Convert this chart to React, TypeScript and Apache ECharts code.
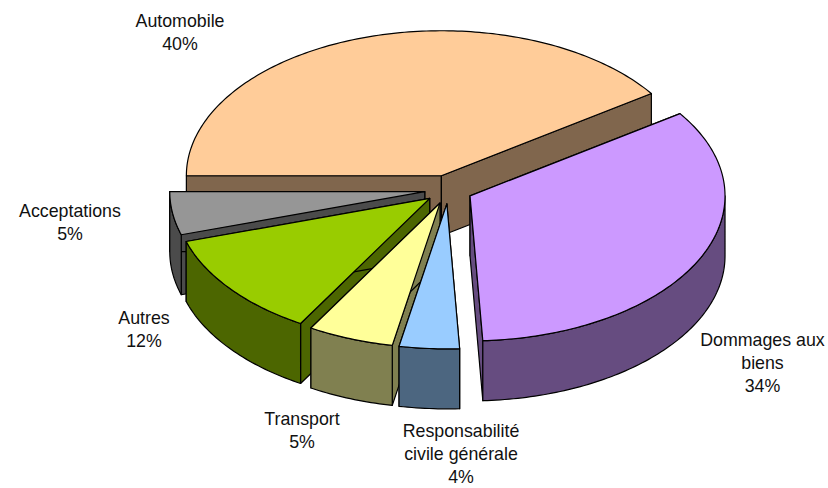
import React, { useEffect, useRef } from "react";
import * as echarts from "echarts";

const categories = ["Automobile", "Dommages aux\nbiens", "Responsabilité\ncivile générale", "Transport", "Autres", "Acceptations"];
const shares = [40.4, 33.8, 3.8, 5.45, 11.75, 4.8];
const percentLabels = ["40%", "34%", "4%", "5%", "12%", "5%"];
const topColors = ["#FFCC99", "#CC99FF", "#99CCFF", "#FFFF99", "#99CC00", "#969696"];
const wallColors = ["#80664D", "#664C80", "#4C6680", "#808050", "#4C6600", "#4B4B4B"];
const paintOrder = [0, 5, 4, 3, 2, 1];
const labelCentres = [[180, 32], [762.5, 363], [461, 454], [302, 430], [144, 329], [70, 222]];

const CX = 448.5, CY = 189.5, RX = 255, RY = 145, DEPTH = 60, EX = 24, EY = 14.4;
const START_DEG = 180;

const total = shares.reduce((a, b) => a + b, 0);

function sliceGeom(idx: number) {
  let before = 0;
  for (let i = 0; i < idx; i++) before += shares[i];
  const a0 = START_DEG - (before / total) * 360;
  const a1 = a0 - (shares[idx] / total) * 360;
  const mid = ((a0 + a1) / 2) * Math.PI / 180;
  const ox = CX + EX * Math.cos(mid);
  const oy = CY - EY * Math.sin(mid);
  const pt = (deg: number, dy = 0): [number, number] => [
    ox + RX * Math.cos(deg * Math.PI / 180),
    oy - RY * Math.sin(deg * Math.PI / 180) + dy,
  ];
  return { a0, a1, ox, oy, pt };
}

function arc(from: number, to: number, pt: (d: number, dy?: number) => [number, number], dy = 0) {
  const n = Math.max(1, Math.ceil(Math.abs(to - from)));
  const out: [number, number][] = [];
  for (let i = 0; i <= n; i++) out.push(pt(from + ((to - from) * i) / n, dy));
  return out;
}

function renderSlice(params: any, api: any) {
  const idx = api.value(0);
  const { a0, a1, ox, oy, pt } = sliceGeom(idx);
  const stroke = { stroke: "#000", lineWidth: 1.2, lineJoin: "round" };
  const wall = { ...stroke, fill: wallColors[idx] };
  const radial = (deg: number) => ({
    type: "polygon",
    shape: { points: [[ox, oy], pt(deg), pt(deg, DEPTH), [ox, oy + DEPTH]] },
    style: wall,
  });
  const children: any[] = [radial(a0), radial(a1)];
  const lo = Math.max(a1, -180);
  const hi = Math.min(a0, 0);
  if (hi > lo) {
    children.push({
      type: "polygon",
      shape: { points: [...arc(hi, lo, pt), ...arc(lo, hi, pt, DEPTH)] },
      style: wall,
    });
  }
  children.push({
    type: "polygon",
    shape: { points: [[ox, oy], ...arc(a0, a1, pt)] },
    style: { ...stroke, fill: topColors[idx] },
  });
  return { type: "group", children };
}

export default function App() {
  const ref = useRef<HTMLDivElement>(null);
  useEffect(() => {
    const chart = echarts.init(ref.current!, undefined, { renderer: "svg" });
    chart.setOption({
      animation: false,
      backgroundColor: "#fff",
      series: [
        {
          type: "custom",
          coordinateSystem: "none",
          silent: true,
          renderItem: renderSlice,
          data: paintOrder.map((i) => ({ name: categories[i], value: [i, shares[i]] })),
        },
      ],
      graphic: categories.map((name, i) => ({
        type: "text",
        x: labelCentres[i][0],
        y: labelCentres[i][1],
        silent: true,
        style: {
          text: `${name}\n${percentLabels[i]}`,
          fill: "#111",
          font: '17.8px "Liberation Sans", Arial, sans-serif',
          align: "center",
          verticalAlign: "middle",
          lineHeight: 23,
        },
      })),
    });
    return () => chart.dispose();
  }, []);
  return <div ref={ref} style={{ position: "fixed", left: 0, top: 0, width: 828, height: 488 }} />;
}
